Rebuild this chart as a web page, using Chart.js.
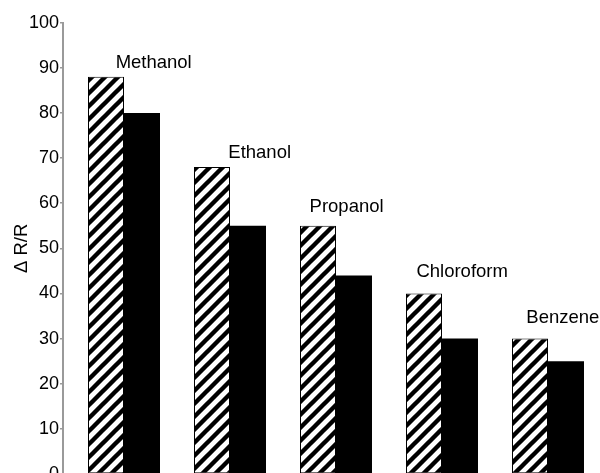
<!DOCTYPE html>
<html>
<head>
<meta charset="utf-8">
<script src="https://cdn.jsdelivr.net/npm/chart.js@4"></script>
<style>
  html, body { margin: 0; padding: 0; background: #fff; overflow: hidden; }
  #wrap { position: relative; width: 600px; height: 490px; }
</style>
</head>
<body>
<div id="wrap"><canvas id="c"></canvas></div>
<script>
// Solvents tested and the relative resistance change for each
const solvents = ['Methanol', 'Ethanol', 'Propanol', 'Chloroform', 'Benzene'];
const hatchedValues = [88, 68, 55, 40, 30];
const solidValues = [80, 55, 44, 30, 25];
const yTicks = [0, 10, 20, 30, 40, 50, 60, 70, 80, 90, 100];
// Where each solvent name sits: value height and shift along the category axis
const labelHeights = [91, 71.2, 59.2, 44.7, 34.5];
const labelShifts = [0.28, 0.28, 0.10, 0.19, 0.14];

const FONT = '"Liberation Sans", Arial, Helvetica, sans-serif';
const AXIS_GREY = '#9a9a9a';

// Diagonal "/" stripes for the first series
function stripePattern() {
  const s = 13;
  const t = document.createElement('canvas');
  t.width = s; t.height = s;
  const g = t.getContext('2d');
  g.fillStyle = '#fff';
  g.fillRect(0, 0, s, s);
  g.strokeStyle = '#000';
  g.lineWidth = 4.4;
  g.beginPath();
  g.moveTo(-s, 2 * s); g.lineTo(2 * s, -s);
  g.moveTo(-s, s); g.lineTo(s, -s);
  g.moveTo(0, 2 * s); g.lineTo(2 * s, 0);
  g.stroke();
  return g.createPattern(t, 'repeat');
}

const ctx = document.getElementById('c').getContext('2d');

const solventLabels = {
  id: 'solventLabels',
  afterDatasetsDraw(chart) {
    const { ctx, scales } = chart;
    ctx.save();
    ctx.font = '18.5px ' + FONT;
    ctx.fillStyle = '#000';
    ctx.textAlign = 'center';
    ctx.textBaseline = 'middle';
    solvents.forEach((name, i) => {
      const x = scales.x.getPixelForValue(i + labelShifts[i]);
      const y = scales.y.getPixelForValue(labelHeights[i]);
      ctx.fillText(name, x, y);
    });
    ctx.restore();
  }
};

new Chart(ctx, {
  type: 'bar',
  data: {
    datasets: [
      {
        data: hatchedValues.map((v, i) => ({ x: i, y: v })),
        backgroundColor: stripePattern(),
        borderColor: '#000',
        borderWidth: 1,
        borderSkipped: false
      },
      {
        data: solidValues.map((v, i) => ({ x: i, y: v })),
        backgroundColor: '#000',
        borderColor: '#000',
        borderWidth: 0
      }
    ]
  },
  options: {
    responsive: true,
    maintainAspectRatio: false,
    animation: false,
    devicePixelRatio: 1,
    layout: { padding: { top: 22.7, right: 0, bottom: 16, left: 0 } },
    datasets: { bar: { barPercentage: 1, categoryPercentage: 72 / 106 } },
    plugins: { legend: { display: false }, tooltip: { enabled: false } },
    scales: {
      x: {
        type: 'linear',
        display: false,
        offset: false,
        min: -0.5755,
        max: 4.4906
      },
      y: {
        min: 0,
        max: 100,
        afterBuildTicks(scale) { scale.ticks = yTicks.map(v => ({ value: v })); },
        afterFit(scale) { scale.width = 63; },
        ticks: {
          color: '#000',
          padding: 1,
          font: { family: FONT, size: 18 }
        },
        grid: {
          drawOnChartArea: false,
          drawTicks: true,
          tickLength: 3,
          color: AXIS_GREY,
          lineWidth: 1.5
        },
        border: { display: true, color: AXIS_GREY, width: 2 },
        title: {
          display: true,
          text: 'Δ R/R',
          color: '#000',
          font: { family: FONT, size: 18.5 },
          padding: { top: 11, bottom: 0 }
        }
      }
    }
  },
  plugins: [solventLabels]
});
</script>
</body>
</html>
